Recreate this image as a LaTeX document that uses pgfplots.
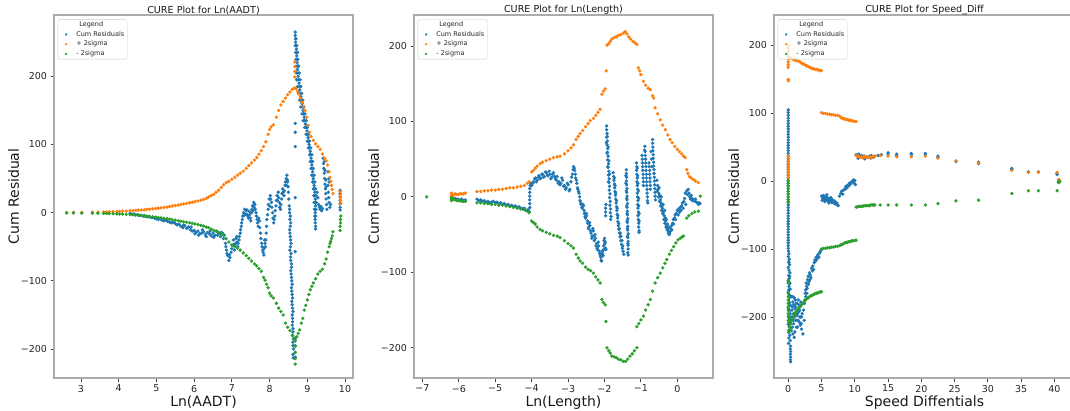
\documentclass[border=0pt]{standalone}
\usepackage{fontspec}
\setmainfont{DejaVu Sans}
\usepackage{pgfplots}
\pgfplotsset{compat=1.18}
\definecolor{c1}{HTML}{1F77B4}
\definecolor{c2}{HTML}{FF7F0E}
\definecolor{c3}{HTML}{2CA02C}
\pgfplotsset{
  cure/.style={
    scale only axis, width=299pt, height=363pt, anchor=south west,
    axis line style={draw=black!33, line width=1.1pt},
    tick align=outside, tick pos=left,
    major tick length=3.5pt,
    major tick style={black!75, line width=0.8pt},
    tick label style={font=\fontsize{9.5}{11}\selectfont, text=black!85},
    /pgf/number format/assume math mode=true,
    label style={font=\fontsize{14}{16}\selectfont, text=black!90},
    xlabel style={yshift=3.5pt},
    ylabel style={yshift=-5pt},
    title style={font=\fontsize{9.6}{11}\selectfont, text=black!90, yshift=-9pt},
    ylabel={Cum Residual},
    ytick={-200,-100,0,100,200},
    yticklabels={−200,−100,0,100,200},
    legend style={at={(0.0124,0.988)}, anchor=north west,
      font=\fontsize{6.5}{7.5}\selectfont, text=black!85,
      draw=black!20, fill=white, fill opacity=0.8, text opacity=1,
      rounded corners=1.5pt, inner xsep=2pt, inner ysep=1pt,
      row sep=1.2pt,
      nodes={inner sep=1pt, text height=5pt, text depth=1.5pt}},
    legend cell align=left,
    legend image code/.code={\path (0pt,0pt) (15pt,0pt);\draw[mark repeat=2,mark phase=2,#1] plot coordinates {(0pt,0pt)(6pt,0pt)(12pt,0pt)};},
    legend image post style={mark size=1pt},
  },
  dot/.style={only marks, mark=*, mark size=1.5pt, color=#1, mark options={draw=none, fill=#1}},
}
\begin{document}
\begin{tikzpicture}
\useasboundingbox (0pt,0pt) rectangle (1070pt,410pt);
% ---------------- Panel 1 ----------------
\begin{axis}[cure, at={(54pt,32pt)},
  xmin=2.284, xmax=10.212, ymin=-242.5, ymax=290,
  xtick={3,4,5,6,7,8,9,10},
  title={CURE Plot for Ln(AADT)}, xlabel={Ln(AADT)}]
\addlegendimage{empty legend}\addlegendentry{\hspace{3pt}Legend}
\addplot[dot=c1] coordinates {
(4.30,-1)(4.35,-2)(4.40,-2)(4.45,-3)(4.50,-3)(4.55,-4)(4.60,-4)(4.65,-5)(4.70,-5)(4.75,-6)(4.80,-6)(4.85,-7)(4.90,-7)(4.95,-8)(5.00,-9)(5.05,-10)(5.10,-9)(5.15,-11)(5.20,-12)(5.25,-11)(5.30,-13)(5.35,-14)(5.40,-15)(5.45,-14)(5.50,-16)(5.55,-18)(5.60,-17)(5.65,-20)(5.70,-22)(5.75,-19)(5.80,-23)(5.85,-21)(5.90,-25)(5.95,-27)(6.00,-26)(6.05,-29)(6.10,-27)(6.15,-31)(6.20,-30)(6.25,-28)(6.30,-32)(6.35,-29)(6.40,-31)(6.45,-34)(6.50,-30)(6.55,-33)(6.60,-27)(6.65,-31)(6.70,-35)(6.75,-30)
(5.72,-18)(5.92,-21)(6.02,-31)(6.12,-33)(6.22,-25)(6.32,-35)(6.42,-27)(6.52,-36)(6.62,-33)(6.72,-29)
(6.78,-38)(6.80,-33)(6.83,-45)(6.86,-55)(6.89,-63)(6.92,-70)(6.95,-66)(6.98,-58)(7.01,-48)(7.04,-40)(7.07,-55)(7.10,-45)(7.13,-35)(7.16,-50)(7.19,-40)(7.22,-30)(7.25,-20)(7.28,-10)(7.31,0)(7.34,5)(7.37,-2)(7.40,4)(7.43,-5)(7.46,2)(7.49,-8)(7.52,0)(7.55,10)(7.58,15)(7.61,12)(7.64,0)(7.67,-10)(7.70,-20)(7.73,-12)(7.76,-30)(7.79,-45)(7.82,-55)(7.85,-62)(7.87,-40)(7.89,-50)(7.91,-30)(7.93,-10)(7.96,5)(7.99,20)(8.02,25)(8.05,15)(8.08,0)(8.11,-15)(8.14,-5)(8.17,10)(8.20,25)(8.23,30)(8.26,15)(8.29,5)(8.32,20)(8.35,35)(8.38,25)(8.41,40)(8.44,50)(8.46,55)(8.48,45)(8.50,30)
(6.84,-50)(6.87,-60)(6.93,-62)(7.00,-53)(7.05,-47)(7.08,-48)(7.11,-38)(7.14,-43)(7.17,-45)(7.20,-35)(7.23,-25)(7.26,-15)(7.29,-5)(7.33,-4)(7.38,3)(7.41,-3)(7.44,-8)(7.47,-3)(7.50,-12)(7.53,5)(7.56,3)(7.59,8)(7.62,5)(7.65,-5)(7.68,-15)(7.71,-8)(7.74,-22)(7.77,-38)(7.80,-50)(7.83,-58)(7.86,-52)(7.88,-45)(7.90,-40)(7.92,-20)(7.95,-3)(7.97,12)(8.00,10)(8.03,20)(8.06,8)(8.09,-8)(8.12,-10)(8.15,3)(8.18,18)(8.21,18)(8.24,22)(8.27,8)(8.30,12)(8.33,28)(8.36,30)(8.39,32)(8.42,45)(8.45,40)(8.47,48)(8.49,38)(8.51,20)
(8.52,10)(8.53,0)(8.54,-10)(8.55,-20)(8.54,-30)(8.56,-40)(8.55,-50)(8.57,-60)(8.56,-70)(8.58,-80)(8.57,-90)(8.59,-100)(8.58,-110)(8.60,-120)(8.59,-130)(8.61,-140)(8.60,-150)(8.61,-160)(8.62,-170)(8.61,-180)(8.62,-190)(8.63,-200)(8.62,-208)(8.63,-213)
(8.53,5)(8.55,-5)(8.56,-15)(8.53,-25)(8.55,-35)(8.57,-45)(8.54,-55)(8.56,-65)(8.58,-75)(8.56,-85)(8.58,-95)(8.60,-105)(8.59,-115)(8.61,-125)(8.60,-135)(8.62,-145)(8.61,-155)(8.60,-165)(8.62,-175)(8.63,-185)(8.62,-195)
(8.68,131)(8.68,118)(8.68,97)(8.68,22)(8.68,-57)(8.68,-185)(8.68,-195)(8.68,-205)(8.68,-212)
(8.68,265)(8.68,260)(8.69,255)(8.70,255)(8.69,250)(8.68,245)(8.70,245)(8.72,245)(8.71,240)(8.69,235)(8.72,235)(8.74,235)(8.72,230)(8.70,225)(8.73,225)(8.75,225)(8.73,220)(8.70,215)(8.74,215)(8.77,215)(8.74,210)(8.71,205)(8.75,205)(8.79,205)(8.76,200)(8.72,195)(8.77,195)(8.81,195)(8.78,190)(8.74,185)(8.79,185)(8.83,185)(8.80,180)(8.77,175)(8.81,175)(8.85,175)(8.83,170)(8.80,165)(8.84,165)(8.88,165)(8.86,160)(8.83,155)(8.87,155)(8.91,155)(8.89,150)(8.86,145)(8.90,145)(8.94,145)(8.92,140)(8.89,135)(8.93,135)(8.97,135)(8.95,130)(8.93,125)(8.97,125)(9.00,125)(8.99,120)(8.97,115)(9.00,115)(9.03,115)(9.02,110)(9.00,105)(9.03,105)(9.06,105)(9.05,100)(9.03,95)(9.06,95)(9.09,95)(9.08,90)(9.06,85)(9.09,85)(9.12,85)(9.10,80)(9.08,75)(9.11,75)(9.14,75)(9.12,70)(9.10,65)(9.13,65)(9.16,65)(9.14,60)(9.12,55)(9.15,55)(9.18,55)(9.16,50)(9.14,45)(9.17,45)(9.20,45)(9.18,40)(9.16,35)(9.19,35)(9.22,35)(9.20,30)(9.17,25)(9.20,25)(9.23,25)(9.21,20)(9.18,15)(9.21,15)(9.24,15)(9.22,10)(9.19,5)(9.23,5)(9.21,0)(9.20,-5)(9.22,-5)(9.21,-10)(9.21,-15)(9.22,-20)(9.22,-24)
(9.26,30)(9.28,22)(9.30,12)(9.32,8)(9.34,5)(9.36,9)(9.38,3)(9.40,6)(9.42,80)(9.43,72)(9.44,65)(9.45,58)(9.46,50)(9.47,42)(9.48,35)(9.49,28)(9.50,20)(9.51,12)(9.52,5)(9.45,75)(9.47,62)(9.49,48)(9.50,38)(9.55,40)(9.56,30)(9.57,22)(9.58,15)(9.60,8)(9.62,12)(9.55,60)(9.57,50)(9.58,45)
(9.87,33)(9.87,28)(9.87,23)(9.87,18)(9.87,13)(9.87,8)(9.87,4)
};
\addlegendentry{Cum Residuals}
\addplot[dot=c2] coordinates {
(2.62,0.3)(2.80,0.4)(3.02,0.5)(3.30,0.7)(3.45,0.8)(3.60,1.0)(3.68,1.1)(3.75,1.3)(3.85,1.5)(3.95,1.7)(4.02,1.9)(4.10,2.1)(4.20,2.4)(4.30,2.8)(4.38,3.1)(4.45,3.4)(4.52,3.7)(4.60,4.0)(4.68,4.4)(4.75,4.8)(4.82,5.2)(4.90,5.6)(4.98,6.1)(5.05,6.6)(5.12,7.1)(5.20,7.7)(5.28,8.3)(5.35,9.0)(5.42,9.8)(5.50,10.5)(5.58,11.3)(5.65,12.0)(5.72,12.8)(5.80,13.6)(5.88,14.4)(5.95,15.3)(6.02,16.2)(6.10,17.2)(6.18,18.3)(6.25,19.5)(6.32,21)(6.38,23)(6.45,25)(6.52,27)(6.58,30)(6.65,33)(6.72,37)(6.78,41)(6.85,44)(6.92,46)(7.00,49)(7.08,52)(7.15,55)(7.22,58)(7.30,61)(7.38,65)(7.45,69)(7.52,73)(7.60,77)(7.66,81)(7.72,86)(7.78,91)(7.84,97)(7.90,104)(7.96,115)(8.00,122)(8.04,126)(8.10,129)(8.18,140)(8.24,150)(8.30,158)(8.36,163)(8.42,168)(8.48,173)(8.54,177)(8.60,181)(8.66,183)(8.70,182)(8.74,178)(8.78,174)(8.82,168)(8.86,162)(8.90,156)(8.94,150)(8.98,140)(9.02,128)(9.06,118)(9.10,112)(9.16,106)(9.22,101)(9.28,97)(9.34,93)(9.40,86)(9.46,80)(9.50,76)(9.54,70)(9.58,60)(9.60,52)(9.62,46)(9.64,40)(9.66,34)(9.68,28)(9.87,31)(9.87,26)(9.88,22)(9.88,18)(9.89,14)
(8.67,221)(8.67,214)(8.67,207)(8.67,199)
};
\addlegendentry{+ 2sigma}
\addplot[dot=c3] coordinates {
(2.62,-0.3)(2.80,-0.4)(3.02,-0.5)(3.30,-0.7)(3.45,-0.8)(3.60,-1.0)(3.68,-1.1)(3.75,-1.3)(3.85,-1.5)(3.95,-1.7)(4.02,-1.9)(4.10,-2.1)(4.20,-2.4)(4.30,-2.8)(4.38,-3.1)(4.45,-3.4)(4.52,-3.8)(4.60,-4.2)(4.68,-4.6)(4.75,-5.0)(4.82,-5.5)(4.90,-6.0)(4.98,-6.5)(5.05,-7.0)(5.12,-7.6)(5.20,-8.2)(5.28,-8.8)(5.35,-9.5)(5.42,-10.2)(5.50,-11)(5.58,-11.8)(5.65,-12.5)(5.72,-13.3)(5.80,-14)(5.88,-14.8)(5.95,-15.6)(6.02,-16.5)(6.10,-17.5)(6.18,-18.5)(6.25,-19.5)(6.32,-21)(6.38,-22)(6.45,-24)(6.52,-26)(6.58,-27)(6.65,-29)(6.72,-31)(6.78,-33)(6.85,-38)(6.92,-43)(7.00,-47)(7.08,-50)(7.15,-52)(7.22,-55)(7.30,-59)(7.38,-63)(7.45,-67)(7.52,-71)(7.60,-75)(7.66,-78)(7.72,-82)(7.78,-86)(7.84,-95)(7.88,-99)(7.92,-105)(7.96,-110)(8.00,-118)(8.04,-122)(8.10,-125)(8.18,-133)(8.24,-140)(8.30,-145)(8.36,-150)(8.42,-162)(8.48,-168)(8.54,-173)(8.60,-180)(8.65,-184)(8.68,-188)(8.68,-196)(8.68,-205)(8.68,-214)(8.68,-222)(8.72,-182)(8.76,-177)(8.80,-172)(8.84,-162)(8.88,-155)(8.92,-143)(8.96,-136)(9.00,-128)(9.04,-120)(9.08,-113)(9.12,-108)(9.16,-103)(9.22,-97)(9.28,-90)(9.34,-86)(9.40,-83)(9.46,-75)(9.50,-68)(9.54,-58)(9.58,-50)(9.60,-45)(9.62,-42)(9.64,-38)(9.66,-34)(9.68,-28)(9.87,-26)(9.87,-20)(9.88,-15)(9.88,-10)(9.89,-5)
};
\addlegendentry{- 2sigma}
\end{axis}
% ---------------- Panel 2 ----------------
\begin{axis}[cure, at={(414pt,32pt)},
  xmin=-7.23, xmax=0.98, ymin=-240, ymax=241,
  xtick={-7,-6,-5,-4,-3,-2,-1,0,1},
  xticklabels={−7,−6,−5,−4,−3,−2,−1,0,1},
  title={CURE Plot for Ln(Length)}, xlabel={Ln(Length)}]
\addlegendimage{empty legend}\addlegendentry{\hspace{3pt}Legend}
\addplot[dot=c1] coordinates {
(-6.20,0)(-6.20,-2)(-6.18,-1)(-6.15,-3)(-6.10,-2)(-6.05,-4)(-6.02,-3)(-5.97,-4)(-5.92,-3)(-5.87,-5)(-5.82,-4)(-5.50,-3)(-5.45,-5)(-5.40,-4)(-5.35,-6)(-5.30,-5)(-5.25,-7)(-5.20,-6)(-5.15,-8)(-5.10,-7)(-5.05,-6)(-5.00,-8)(-4.95,-7)(-4.90,-9)(-4.85,-8)(-4.80,-10)(-4.75,-9)(-4.70,-11)(-4.65,-10)(-4.60,-12)(-4.55,-11)(-4.50,-13)(-4.45,-12)(-4.40,-14)(-4.35,-13)(-4.30,-15)(-4.25,-16)(-4.20,-15)(-4.15,-18)(-4.10,-17)(-4.07,-19)
(-4.05,-14)(-4.05,-9)(-4.05,-4)(-4.05,1)(-4.05,6)(-4.05,11)(-4.04,15)(-4.02,18)
(-4.00,15)(-3.97,18)(-3.95,20)(-3.92,24)(-3.90,25)(-3.87,20)(-3.85,22)(-3.82,26)(-3.80,28)(-3.77,24)(-3.75,25)(-3.72,30)(-3.70,30)(-3.67,26)(-3.65,27)(-3.62,33)(-3.60,32)(-3.57,29)(-3.55,28)(-3.52,34)(-3.50,30)(-3.47,24)(-3.45,26)(-3.42,30)(-3.40,32)(-3.37,27)(-3.35,24)(-3.32,22)(-3.30,27)(-3.27,18)(-3.25,20)(-3.22,16)(-3.20,18)(-3.17,25)(-3.15,22)(-3.12,14)(-3.10,15)(-3.07,10)(-3.05,12)(-3.02,18)(-3.00,16)(-2.97,8)(-2.95,10)
(-2.92,20)(-2.90,26)(-2.88,30)(-2.86,36)(-2.85,40)(-2.83,38)(-2.82,35)(-2.80,30)(-2.79,25)(-2.77,22)(-2.76,18)(-2.74,12)(-2.73,10)(-2.71,7)(-2.70,5)(-2.68,0)(-2.67,-5)(-2.65,-8)(-2.64,-10)(-2.62,-14)(-2.61,-15)(-2.59,-10)(-2.58,-12)(-2.56,-18)(-2.55,-22)(-2.53,-26)(-2.52,-28)(-2.50,-22)(-2.49,-25)(-2.47,-32)(-2.46,-35)(-2.44,-42)(-2.43,-40)(-2.41,-34)(-2.40,-38)(-2.38,-45)(-2.37,-48)(-2.35,-55)(-2.34,-52)(-2.32,-42)(-2.31,-45)(-2.29,-52)(-2.28,-58)(-2.26,-50)(-2.25,-55)(-2.23,-65)(-2.22,-62)(-2.20,-68)(-2.19,-70)(-2.17,-60)(-2.16,-65)(-2.14,-72)(-2.13,-75)(-2.11,-78)(-2.10,-80)(-2.09,-84)(-2.08,-85)(-2.07,-76)(-2.06,-72)(-2.05,-75)(-2.04,-78)(-2.03,-70)(-2.02,-65)(-2.01,-58)(-2.00,-55)(-1.99,-62)(-1.98,-60)(-1.97,-68)(-1.96,-70)
(-1.97,-15)(-1.97,-20)(-1.97,-25)(-1.96,-10)
(-1.94,94)(-1.94,89)(-1.93,84)(-1.94,79)(-1.92,74)(-1.93,69)(-1.91,64)(-1.92,59)(-1.90,54)(-1.91,49)(-1.89,44)(-1.90,39)(-1.88,34)(-1.89,29)(-1.87,24)(-1.88,19)(-1.86,14)(-1.87,9)(-1.85,4)(-1.86,-1)(-1.84,-6)(-1.85,-11)(-1.83,-16)(-1.84,-21)(-1.82,-26)(-1.83,-30)
(-1.92,80)(-1.95,72)(-1.90,66)(-1.93,58)(-1.88,48)(-1.91,40)(-1.86,30)(-1.89,20)
(-1.76,32)(-1.75,27)(-1.74,22)(-1.73,17)(-1.72,12)(-1.71,7)(-1.70,2)(-1.69,-3)(-1.68,-8)(-1.67,-13)(-1.66,-18)(-1.65,-23)(-1.64,-28)(-1.63,-33)(-1.62,-38)(-1.61,-43)(-1.59,-48)(-1.57,-53)(-1.55,-58)(-1.53,-63)(-1.51,-68)(-1.49,-72)(-1.47,-76)
(-1.73,25)(-1.71,15)(-1.69,5)(-1.67,-5)(-1.65,-15)(-1.63,-25)(-1.61,-35)(-1.59,-42)(-1.57,-48)(-1.55,-52)(-1.52,-58)(-1.50,-65)
(-1.40,36)(-1.40,31)(-1.39,26)(-1.40,21)(-1.39,16)(-1.38,11)(-1.39,6)(-1.38,1)(-1.38,-4)(-1.37,-9)(-1.38,-14)(-1.37,-19)(-1.37,-24)(-1.36,-29)(-1.37,-34)(-1.36,-39)(-1.36,-44)(-1.35,-49)(-1.36,-54)(-1.35,-59)(-1.35,-64)(-1.35,-69)(-1.36,-74)(-1.35,-77)
(-1.41,28)(-1.41,18)(-1.40,8)(-1.39,-2)(-1.39,-12)(-1.38,-22)(-1.38,-32)(-1.37,-42)(-1.37,-52)(-1.36,-62)
(-1.12,45)(-1.11,40)(-1.12,35)(-1.11,30)(-1.10,25)(-1.11,20)(-1.10,15)(-1.09,10)(-1.10,5)(-1.09,0)(-1.08,-5)(-1.09,-10)(-1.08,-15)(-1.07,-20)(-1.08,-25)(-1.07,-30)(-1.06,-35)(-1.06,-40)(-1.05,-45)(-1.05,-47)
(-1.10,38)(-1.09,28)(-1.08,18)(-1.07,8)(-1.06,-2)(-1.06,-12)(-1.05,-22)(-1.05,-32)
(-0.97,55)(-0.96,50)(-0.96,45)(-0.95,40)(-0.95,35)(-0.94,30)(-0.94,25)(-0.93,20)(-0.93,15)
(-0.90,62)(-0.89,67)(-0.88,60)(-0.88,55)(-0.87,50)(-0.87,45)(-0.86,40)(-0.86,35)(-0.85,30)(-0.85,25)(-0.84,20)(-0.84,15)(-0.83,10)(-0.83,5)(-0.82,0)(-0.82,-5)(-0.81,-8)
(-0.78,45)(-0.77,40)(-0.76,35)(-0.76,30)(-0.75,25)(-0.75,20)(-0.74,15)(-0.74,10)
(-0.68,76)(-0.68,71)(-0.67,66)(-0.67,61)(-0.66,56)(-0.66,51)(-0.65,46)(-0.65,41)(-0.64,36)(-0.64,31)(-0.63,26)(-0.63,21)(-0.62,16)(-0.62,11)(-0.61,6)(-0.61,1)(-0.60,-4)
(-0.72,60)(-0.71,50)(-0.70,40)
(-0.56,22)(-0.54,15)(-0.53,10)(-0.51,5)(-0.50,12)(-0.48,2)(-0.47,-4)(-0.45,-8)(-0.44,0)(-0.42,-12)(-0.41,-15)(-0.39,-10)(-0.38,-20)(-0.36,-25)(-0.35,-18)(-0.33,-28)(-0.32,-32)(-0.30,-30)(-0.29,-38)(-0.27,-36)(-0.26,-42)(-0.24,-45)(-0.23,-40)(-0.21,-48)(-0.20,-46)
(-0.55,8)(-0.52,0)(-0.49,-6)(-0.46,-12)(-0.43,-18)(-0.40,-22)(-0.37,-30)(-0.34,-35)(-0.31,-40)(-0.28,-44)(-0.25,-48)(-0.22,-50)
(-0.18,-42)(-0.16,-38)(-0.15,-44)(-0.13,-35)(-0.11,-30)(-0.10,-36)(-0.08,-28)(-0.06,-24)(-0.05,-30)(-0.03,-22)(0.00,-18)(0.02,-24)(0.04,-16)(0.06,-20)(0.08,-14)(0.10,-18)(0.12,-12)(0.14,-8)(0.16,-15)(0.18,-6)(0.20,-2)(0.22,5)(0.23,-10)
(0.26,8)(0.28,3)(0.30,10)(0.32,5)(0.34,0)(0.36,-3)(0.38,2)(0.40,-2)(0.42,-5)(0.45,-4)(0.48,-6)(0.50,-3)(0.53,-7)(0.56,-8)(0.58,-10)(0.60,-8)(0.62,-9)
};
\addlegendentry{Cum Residuals}
\addplot[dot=c2] coordinates {
(-6.20,1)(-6.20,3)(-6.20,5)(-6.15,2)(-6.10,4)(-6.05,3)(-6.02,3)(-5.97,4)(-5.92,4)(-5.87,4)(-5.82,5)
(-5.50,7)(-5.40,7)(-5.30,8)(-5.20,8)(-5.10,9)(-5.00,9)(-4.90,10)(-4.80,10)(-4.70,11)(-4.60,12)(-4.50,12)(-4.40,13)(-4.30,14)(-4.20,15)(-4.12,18)(-4.07,20)
(-4.00,33)(-3.95,35)(-3.90,38)(-3.85,41)(-3.77,44)(-3.70,46)(-3.60,48)(-3.50,50)(-3.40,52)(-3.30,53)(-3.22,54)(-3.10,57)(-3.00,61)(-2.92,65)(-2.85,69)(-2.78,76)(-2.72,80)(-2.67,84)(-2.60,88)(-2.52,93)(-2.45,97)(-2.39,101)(-2.30,104)(-2.24,108)(-2.18,112)(-2.12,116)
(-2.07,136)(-2.03,140)(-1.98,143)(-1.95,167)
(-1.93,201)(-1.88,203)(-1.84,206)(-1.80,209)(-1.74,211)(-1.68,212)(-1.62,214)(-1.55,215)(-1.48,217)(-1.43,219)(-1.38,216)(-1.33,212)(-1.28,209)(-1.22,206)(-1.16,204)(-1.11,202)
(-1.07,171)(-1.03,167)(-1.00,162)(-0.93,153)(-0.87,148)(-0.80,144)(-0.74,142)(-0.68,134)(-0.65,131)(-0.61,118)(-0.54,110)(-0.47,102)(-0.40,95)(-0.33,89)(-0.26,82)(-0.20,76)(-0.14,72)(-0.07,67)(0.00,63)(0.06,60)(0.12,57)(0.17,54)(0.22,52)
(0.26,36)(0.29,31)(0.33,27)(0.38,25)(0.44,23)(0.50,21)(0.58,19)
};
\addlegendentry{+ 2sigma}
\addplot[dot=c3] coordinates {
(-6.88,0)
(-6.20,-1)(-6.20,-3)(-6.20,-5)(-6.15,-3)(-6.10,-4)(-6.05,-5)(-6.02,-5)(-5.97,-5)(-5.92,-6)(-5.87,-6)(-5.82,-6)
(-5.50,-8)(-5.40,-8)(-5.30,-9)(-5.20,-9)(-5.10,-10)(-5.00,-10)(-4.90,-11)(-4.80,-11)(-4.70,-12)(-4.60,-13)(-4.50,-14)(-4.40,-15)(-4.30,-16)(-4.20,-17)(-4.12,-19)(-4.07,-21)
(-4.00,-32)(-3.95,-34)(-3.90,-36)(-3.85,-40)(-3.77,-43)(-3.70,-45)(-3.60,-47)(-3.50,-49)(-3.40,-51)(-3.30,-52)(-3.22,-54)(-3.10,-58)(-3.00,-62)(-2.92,-65)(-2.85,-68)(-2.78,-76)(-2.72,-81)(-2.67,-85)(-2.60,-88)(-2.52,-93)(-2.45,-96)(-2.38,-98)(-2.30,-101)(-2.24,-106)(-2.18,-110)(-2.12,-114)
(-2.07,-136)(-2.03,-140)(-1.98,-143)(-1.96,-165)
(-1.93,-200)(-1.88,-204)(-1.84,-207)(-1.80,-211)(-1.74,-212)(-1.68,-213)(-1.62,-215)(-1.55,-216)(-1.48,-218)(-1.42,-218)(-1.36,-215)(-1.30,-211)(-1.24,-208)(-1.18,-204)(-1.11,-200)
(-1.11,-172)(-1.06,-168)(-1.00,-163)(-0.93,-158)(-0.87,-150)(-0.80,-143)(-0.74,-136)(-0.68,-125)(-0.61,-114)(-0.54,-107)(-0.47,-101)(-0.40,-94)(-0.34,-88)(-0.29,-83)(-0.22,-76)(-0.16,-71)(-0.10,-66)(-0.04,-61)(0.02,-57)(0.08,-55)(0.13,-53)(0.17,-52)
(0.26,-28)(0.32,-25)(0.40,-22)(0.48,-20)(0.58,-19)(0.63,1)
};
\addlegendentry{- 2sigma}
\end{axis}
% ---------------- Panel 3 ----------------
\begin{axis}[cure, at={(774pt,32pt)}, width=301pt,
  xmin=-2.14, xmax=43.10, ymin=-290, ymax=245,
  xtick={0,5,10,15,20,25,30,35,40},
  title={CURE Plot for Speed\_Diff}, xlabel={Speed Diffentials}]
\addlegendimage{empty legend}\addlegendentry{\hspace{3pt}Legend}
\addplot[dot=c1] coordinates {
(0,105)(0,101)(0,97)(0,93)(0,89)(0,85)(0,81)(0,77)(0,73)(0,69)(0,65)(0,61)(0,57)(0,53)(0,49)(0,45)(0,41)(0,37)(0,33)(0,29)(0,25)(0,21)(0,17)(0,13)(0,9)(0,5)(0,1)(0,-3)(0,-7)(0,-11)(0,-15)(0,-19)(0,-23)(0,-27)(0,-31)(0,-35)(0,-39)(0,-43)(0,-47)(0,-51)(0,-55)(0,-59)(0,-63)(0,-67)(0,-71)(0,-75)(0,-79)(0,-83)(0,-87)(0,-91)(0,-95)(0,-99)
(0.05,-103)(0.1,-107)(0,-111)(0.15,-115)(0.05,-119)(0.2,-123)(0,-127)(0.1,-131)(0.25,-135)(0.05,-139)(0.15,-143)(0,-147)(0.2,-151)(0.1,-155)(0.3,-159)(0,-163)(0.15,-167)(0.25,-171)(0.05,-175)(0.2,-179)(0.35,-183)(0,-187)(0.1,-191)(0.3,-195)(0.05,-199)(0.2,-203)(0.4,-207)(0,-211)(0.15,-215)(0.3,-219)(0.05,-223)(0.25,-227)(0.1,-231)(0.3,-235)(0.05,-239)(0.35,-243)(0.3,-247)(0.35,-251)(0.32,-255)(0.36,-259)(0.34,-263)(0.35,-266)
(0.1,-120)(0.2,-140)(0.1,-160)(0.05,-180)(0.15,-200)(0.1,-220)(0.2,-190)(0.25,-150)(0.3,-210)(0.3,-170)
(0.5,-170)(0.6,-185)(0.7,-178)(0.8,-195)(0.9,-172)(1.0,-188)(1.1,-205)(1.2,-180)(1.3,-198)(1.4,-215)(1.5,-175)(1.6,-192)(1.7,-208)(1.8,-185)(1.9,-200)(2.0,-218)(2.1,-195)(2.2,-225)(0.5,-200)(0.6,-215)(0.7,-225)(0.8,-210)(0.9,-230)(1.0,-222)(1.1,-185)(1.2,-215)(1.3,-180)(1.4,-195)(1.5,-205)(1.6,-182)(1.7,-190)(1.8,-212)(1.9,-178)(2.0,-200)(0.55,-190)(0.75,-205)(0.95,-200)(1.15,-195)(1.35,-205)(1.55,-190)(1.75,-200)(1.95,-210)(0.65,-170)(1.05,-175)(0.45,-220)(0.85,-182)
(2.3,-190)(2.4,-205)(2.5,-175)(2.55,-165)(2.6,-160)(2.7,-150)(2.75,-155)(2.8,-165)(2.9,-145)(3.0,-140)(3.1,-148)(3.2,-135)(3.3,-138)(3.4,-142)(3.5,-128)(3.6,-132)(3.7,-125)(3.8,-130)(3.9,-120)(4.0,-116)(4.1,-118)(4.2,-112)(4.3,-115)(4.4,-110)(4.5,-108)(4.6,-112)(4.7,-106)(4.8,-104)(4.9,-102)(5.0,-100)
(2.45,-180)(2.65,-170)(2.85,-158)(3.05,-152)(3.25,-145)
(5.0,-22)(5.2,-25)(5.3,-21)(5.4,-27)(5.5,-24)(5.6,-28)(5.7,-23)(5.8,-26)(5.9,-29)(6.0,-25)(6.1,-27)(6.2,-30)(6.3,-26)(6.4,-28)(6.5,-31)(6.6,-27)(6.7,-30)(6.8,-32)(6.9,-29)(7.0,-33)(7.1,-31)(7.2,-34)(7.3,-32)(7.4,-35)(7.5,-36)(5.1,-28)(5.5,-30)(5.8,-20)(6.1,-32)(6.4,-24)
(7.7,-22)(7.9,-18)(8.0,-15)(8.2,-19)(8.3,-13)(8.5,-12)(8.6,-8)(8.8,-10)(8.9,-6)(9.1,-7)(9.2,-3)(9.4,-4)(9.5,-1)(9.7,0)(9.8,2)(9.9,-3)(10.0,1)(10.1,-5)
(10.2,39)(10.4,37)(10.6,40)(10.8,36)(11.0,38)(11.2,35)(11.4,37)(11.6,34)(11.8,36)(12.0,35)(12.2,37)(12.4,34)(12.6,36)(12.8,35)(13.0,37)(10.5,34)(11.5,33)(12.5,38)(13.5,38)(14.0,39)
(15.0,42)(15.0,40)(16.3,40)(16.3,38)(18.5,41)(18.5,39)(20.6,41)(20.6,39)(22.5,37)(22.5,35)(25.2,29)(28.6,26)(28.6,28)(33.6,19)(33.6,17)(36.1,14)(37.6,14)(40.4,10)(40.4,12)(40.7,2)(40.6,0)
};
\addlegendentry{Cum Residuals}
\addplot[dot=c2] coordinates {
(0,6)(0,10)(0,14)(0,18)(0,22)(0,26)(0,30)(0,34)(0,37)
(0,148)(0,150)(0,168)(0,172)(0,176)(0,180)(0,184)(0,188)(0,192)(0,196)(0,200)
(0.3,182)(0.5,181)(0.7,180)(0.9,179)(1.1,178)(1.3,178)(1.5,177)(1.75,176)(2.0,174)(2.2,173)(2.4,172)(2.6,171)(2.8,170)(3.0,169)(3.2,168)(3.4,167)(3.6,166)(3.8,166)(4.0,165)(4.2,165)(4.4,164)(4.6,164)(4.8,163)(5.0,163)
(5.0,101)(5.3,100)(5.6,100)(5.9,99)(6.2,99)(6.5,98)(6.8,98)(7.1,97)(7.4,97)(7.7,96)(7.9,94)(8.1,93)(8.3,92)(8.5,92)(8.7,91)(8.9,91)(9.1,90)(9.3,90)(9.5,89)(9.7,89)(10.0,88)(10.2,88)
(10.2,38)(10.4,36)(10.6,37)(10.8,35)(11.0,36)(11.2,35)(11.4,36)(11.6,35)(11.8,36)(12.0,35)(12.2,36)(12.4,35)(12.6,36)(12.8,36)(13.0,37)
(13.8,38)(15.0,37)(16.3,36)(18.5,36)(20.6,37)(22.5,34)(25.2,30)(28.6,27)(33.6,16)(36.1,13)(37.6,13)(40.4,13)(40.6,2)(40.7,0)(40.8,1)
};
\addlegendentry{+ 2sigma}
\addplot[dot=c3] coordinates {
(0,1)(0,-3)(0,-7)(0,-11)(0,-15)(0,-19)(0,-23)(0,-27)(0,-31)
(0,-146)(0,-150)(0,-165)(0,-170)(0,-175)(0,-180)(0,-185)(0,-190)(0,-195)(0,-200)(0,-205)
(0.1,-208)(0.2,-214)(0.3,-216)(0.4,-210)(0.5,-205)(0.6,-202)(0.7,-200)(0.85,-197)(1.0,-195)(1.2,-192)(1.4,-189)(1.6,-186)(1.8,-184)(2.0,-182)(2.2,-180)(2.4,-177)(2.6,-175)(2.8,-173)(3.0,-172)(3.2,-170)(3.4,-169)(3.6,-168)(3.8,-167)(4.0,-166)(4.2,-165)(4.4,-165)(4.6,-164)(4.8,-163)(5.0,-163)
(0.05,-220)(0.15,-222)(0.3,-219)
(5.0,-100)(5.3,-99)(5.6,-99)(5.9,-98)(6.2,-98)(6.5,-97)(6.8,-97)(7.1,-96)(7.4,-96)(7.7,-95)(7.9,-94)(8.1,-93)(8.3,-92)(8.5,-91)(8.7,-90)(8.9,-90)(9.1,-89)(9.3,-89)(9.5,-88)(9.7,-88)(10.0,-87)(10.2,-87)
(10.2,-38)(10.4,-38)(10.6,-37)(10.8,-37)(11.0,-37)(11.2,-37)(11.4,-36)(11.6,-36)(11.8,-36)(12.0,-36)(12.2,-36)(12.4,-35)(12.6,-35)(12.8,-35)(13.0,-35)
(13.8,-35)(15.0,-35)(16.3,-35)(18.5,-35)(20.6,-35)(22.5,-33)(25.2,-29)(28.6,-28)(33.6,-18)(36.1,-14)(37.6,-14)(40.4,-14)(40.6,-2)(40.7,0)(40.8,-1)
};
\addlegendentry{- 2sigma}
\end{axis}
\end{tikzpicture}
\end{document}
